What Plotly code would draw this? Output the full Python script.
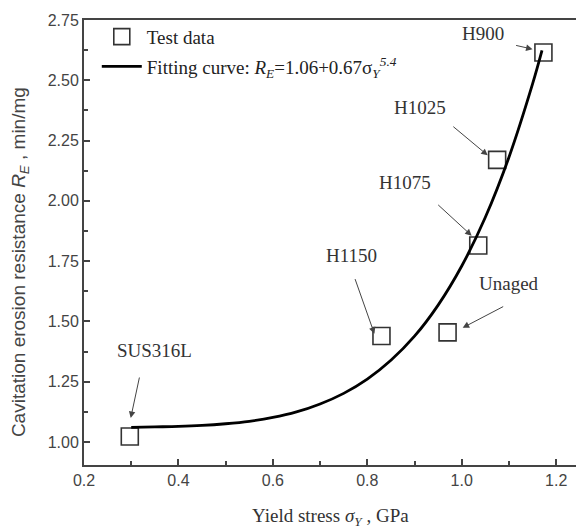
import plotly.graph_objects as go

# Test data
labels = ["SUS316L", "H1150", "Unaged", "H1075", "H1025", "H900"]
sigma_y = [0.297, 0.83, 0.97, 1.035, 1.075, 1.173]
r_e = [1.023, 1.44, 1.455, 1.815, 2.17, 2.615]

# Fitting curve
fit_x = [0.30, 0.35, 0.40, 0.45, 0.50, 0.55, 0.60, 0.65, 0.70, 0.75, 0.80, 0.85,
         0.90, 0.95, 1.00, 1.05, 1.10, 1.15, 1.17]
fit_y = [1.061, 1.063, 1.065, 1.069, 1.076, 1.086, 1.102, 1.125, 1.158, 1.202,
         1.261, 1.339, 1.439, 1.568, 1.730, 1.932, 2.181, 2.485, 2.624]

# Annotation positions: label (x, y), arrow tail (x, y), arrow head (x, y)
label_pos = [(0.349, 1.38), (0.767, 1.773), (1.101, 1.657), (0.879, 2.076),
             (0.911, 2.388), (1.046, 2.696)]
arrow_tail = [(0.318, 1.274), (0.773, 1.682), (1.091, 1.565), (0.947, 1.989),
              (0.979, 2.313), (1.112, 2.646)]
arrow_head = [(0.299, 1.10), (0.815, 1.449), (1.002, 1.474), (1.021, 1.856),
              (1.055, 2.189), (1.150, 2.629)]

x_ticks = [0.2, 0.4, 0.6, 0.8, 1.0, 1.2]
y_ticks = [1.00, 1.25, 1.50, 1.75, 2.00, 2.25, 2.50, 2.75]

serif = "Liberation Serif, Times New Roman, serif"
sans = "Liberation Sans, Arial, sans-serif"

fig = go.Figure()
fig.add_trace(go.Scatter(
    x=sigma_y, y=r_e, mode="markers", name="Test data", legendgroup="a",
    marker=dict(symbol="square-open", size=17, color="#333333", line=dict(width=1.6, color="#333333")),
))
fig.add_trace(go.Scatter(
    x=fit_x, y=fit_y, mode="lines", line=dict(color="black", width=2.8, shape="spline"),
    legendgroup="b",
    name="Fitting curve: <i>R<sub>E</sub></i>=1.06+0.67σ<sub><i>Y</i></sub><sup><i>5.4</i></sup>",
))

annotations = []
for lab, (lx, ly) in zip(labels, label_pos):
    annotations.append(dict(x=lx, y=ly, xref="x", yref="y", text=lab, showarrow=False,
                            font=dict(family=serif, size=19, color="#333333")))
for (tx, ty), (hx, hy) in zip(arrow_tail, arrow_head):
    annotations.append(dict(x=hx, y=hy, ax=tx, ay=ty, xref="x", yref="y", axref="x", ayref="y",
                            text="", showarrow=True, arrowhead=2, arrowsize=1.3, arrowwidth=1,
                            arrowcolor="#444444"))
annotations.append(dict(x=-0.13, y=0.456, xref="paper", yref="paper", textangle=-90,
                        xanchor="center", yanchor="middle",
                        text="Cavitation erosion resistance <i>R<sub>E</sub></i> , min/mg",
                        showarrow=False, font=dict(family=sans, size=19, color="#444444")))
annotations.append(dict(x=0.5, y=-0.117, xref="paper", yref="paper",
                        xanchor="center", yanchor="middle",
                        text="Yield stress <i>σ<sub>Y</sub></i> , GPa",
                        showarrow=False, font=dict(family=serif, size=19, color="#333333")))
fig.update_layout(annotations=annotations)

fig.update_layout(
    width=576, height=531,
    margin=dict(l=84, r=0, t=20, b=66),
    paper_bgcolor="white", plot_bgcolor="white",
    showlegend=True,
    legend=dict(x=0.026, y=1.005, xanchor="left", yanchor="top", bgcolor="rgba(0,0,0,0)",
                font=dict(family=serif, size=19, color="#222222"), itemwidth=40,
                tracegroupgap=2),
    xaxis=dict(range=[0.2, 1.242], tickvals=x_ticks, ticktext=["0.2", "0.4", "0.6", "0.8", "1.0", "1.2"],
               ticks="inside", ticklen=6, tickwidth=1.5, tickcolor="#444444",
               minor=dict(ticks="inside", ticklen=4, tickwidth=1.5, tickcolor="#444444", dtick=0.1),
               showline=True, linecolor="#444444", linewidth=2, mirror=True,
               showgrid=False, zeroline=False, automargin=False,
               tickfont=dict(family=sans, size=16, color="#444444")),
    yaxis=dict(range=[0.905, 2.75], tickvals=y_ticks,
               ticktext=["1.00", "1.25", "1.50", "1.75", "2.00", "2.25", "2.50", "2.75"],
               ticks="inside", ticklen=6, tickwidth=1.5, tickcolor="#444444",
               minor=dict(ticks="inside", ticklen=4, tickwidth=1.5, tickcolor="#444444", dtick=0.125),
               showline=True, linecolor="#444444", linewidth=2, mirror=False,
               showgrid=False, zeroline=False, automargin=False,
               tickfont=dict(family=sans, size=16, color="#444444")),
)

fig.write_html("out.html", config={"displayModeBar": False},
               post_script="document.body.style.margin='0px';")
